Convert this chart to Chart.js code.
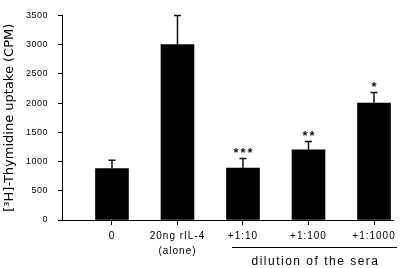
<!DOCTYPE html>
<html>
<head>
<meta charset="utf-8">
<script src="https://cdn.jsdelivr.net/npm/chart.js@4.4.0/dist/chart.umd.min.js"></script>
<style>
  html, body { margin: 0; padding: 0; background: #fff; }
  #wrap { width: 400px; height: 268px; position: relative; }
</style>
</head>
<body>
<div id="wrap"><canvas id="c" width="400" height="268"></canvas></div>
<script>
// ---- data ----
const categories = [['0'], ['20ng rIL-4', '(alone)'], ['+1:10'], ['+1:100'], ['+1:1000']];
const uptakeMeans = [880, 3000, 890, 1200, 2000];
const uptakeErrors = [140, 500, 160, 145, 180];
const significance = ['', '', '***', '**', '*'];
const yTicks = [0, 500, 1000, 1500, 2000, 2500, 3000, 3500];
const groupLabel = 'dilution of the sera';
const yTitle = '[³H]-Thymidine uptake (CPM)';

const FONT = "'Liberation Sans', Arial, sans-serif";
const TITLE_FONT = "'DejaVu Sans', sans-serif";

const barData = uptakeMeans.map((v, i) => ({ x: i, y: v }));

function spaceLabels(scale, spacing) {
  if (scale._spacedDraw) return;
  const orig = scale.drawLabels;
  scale.drawLabels = function (area) {
    const ctx = this.ctx;
    ctx.save();
    ctx.letterSpacing = spacing;
    orig.call(this, area);
    ctx.restore();
  };
  scale._spacedDraw = true;
}

const annotations = {
  id: 'annotations',
  afterLayout(chart) {
    spaceLabels(chart.scales.x, '1px');
    spaceLabels(chart.scales.y, '0.5px');
  },
  afterDatasetsDraw(chart) {
    const ctx = chart.ctx;
    const xs = chart.scales.x, ys = chart.scales.y;
    ctx.save();
    // error bars
    ctx.strokeStyle = '#111';
    ctx.lineWidth = 1.5;
    uptakeMeans.forEach((v, i) => {
      const px = xs.getPixelForValue(i);
      const top = ys.getPixelForValue(v + uptakeErrors[i]);
      const base = ys.getPixelForValue(v);
      ctx.beginPath();
      ctx.moveTo(px, base);
      ctx.lineTo(px, top);
      ctx.moveTo(px - 3.5, top);
      ctx.lineTo(px + 3.5, top);
      ctx.stroke();
      // significance stars
      if (significance[i]) {
        ctx.fillStyle = '#111';
        ctx.font = 'bold 13px ' + FONT;
        ctx.letterSpacing = '2px';
        ctx.textAlign = 'center';
        ctx.textBaseline = 'middle';
        ctx.fillText(significance[i], px + 1, top - 5);
      }
    });
    // group underline and label
    const x1 = xs.getPixelForValue(2) - 11;
    const x2 = xs.getPixelForValue(4) + 23;
    const ly = chart.chartArea.bottom + 27;
    ctx.strokeStyle = '#000';
    ctx.lineWidth = 1;
    ctx.beginPath();
    ctx.moveTo(x1, ly + 0.5);
    ctx.lineTo(x2, ly + 0.5);
    ctx.stroke();
    ctx.fillStyle = '#000';
    ctx.font = '12px ' + FONT;
    ctx.letterSpacing = '1.5px';
    ctx.textAlign = 'center';
    ctx.textBaseline = 'middle';
    ctx.fillText(groupLabel, (xs.getPixelForValue(2) + xs.getPixelForValue(4)) / 2 + 7, chart.chartArea.bottom + 42);
    ctx.letterSpacing = '0px';
    ctx.restore();
  }
};

new Chart(document.getElementById('c'), {
  type: 'bar',
  data: {
    datasets: [{
      data: barData,
      backgroundColor: '#000',
      borderWidth: 0,
      barThickness: 33
    }]
  },
  plugins: [annotations],
  options: {
    responsive: false,
    animation: false,
    devicePixelRatio: 1,
    layout: { padding: { top: 7, right: 7, left: 0, bottom: 0 } },
    plugins: { legend: { display: false }, tooltip: { enabled: false } },
    scales: {
      x: {
        type: 'linear',
        min: -0.763,
        max: 4.29,
        offset: false,
        afterBuildTicks(scale) { scale.ticks = categories.map((_, i) => ({ value: i })); },
        afterFit(scale) { scale.height = 48; },
        ticks: {
          autoSkip: false,
          maxRotation: 0,
          padding: 4,
          color: '#000',
          font: { family: FONT, size: 10, lineHeight: 1.5 },
          callback(v) { return categories[v] || ''; }
        },
        grid: { offset: false, drawOnChartArea: false, drawTicks: true, tickLength: 5, color: '#000' },
        border: { display: true, color: '#000', width: 1 }
      },
      y: {
        min: 0,
        max: 3500,
        afterBuildTicks(scale) { scale.ticks = yTicks.map(v => ({ value: v })); },
        afterFit(scale) { scale.width = 62; },
        ticks: {
          padding: 10,
          color: '#000',
          font: { family: FONT, size: 9 },
          callback(v) { return String(v); }
        },
        title: {
          display: true,
          text: yTitle,
          color: '#000',
          font: { family: TITLE_FONT, size: 13 },
          padding: { top: 2, bottom: 0 }
        },
        grid: { drawOnChartArea: false, drawTicks: true, tickLength: 4, color: '#000' },
        border: { display: true, color: '#000', width: 1 }
      }
    }
  }
});
</script>
</body>
</html>
